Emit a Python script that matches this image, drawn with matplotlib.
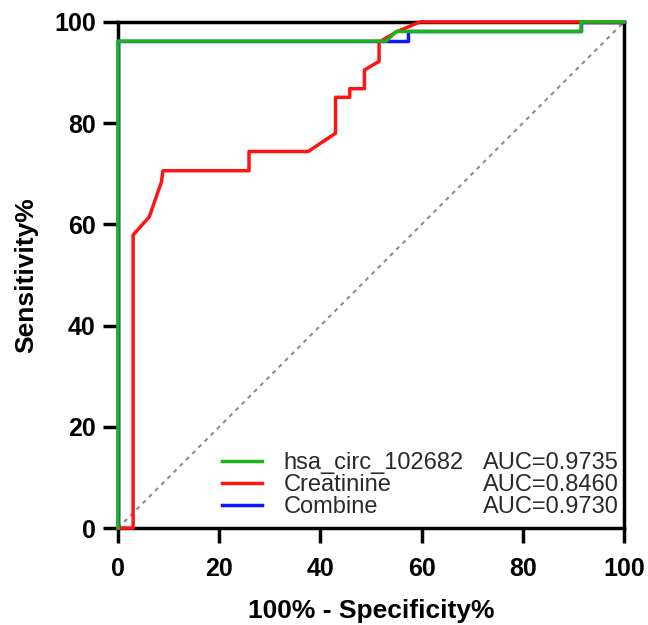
import numpy as np
import matplotlib.pyplot as plt

plt.rcParams['font.family'] = ['Liberation Sans', 'DejaVu Sans']

# ROC curves, x = 100% - Specificity%, y = Sensitivity%
circ_x = [0, 0, 53.0, 55.0, 91.5, 91.5, 100]
circ_y = [0, 96.2, 96.2, 98.1, 98.1, 100, 100]

creat_x = [0, 3.0, 3.0, 6.2, 8.6, 8.9, 25.9, 25.9, 37.6, 43.0, 43.0, 45.8, 45.8,
           48.7, 48.7, 51.6, 51.6, 55.0, 59.7, 100]
creat_y = [0, 0, 57.9, 61.5, 68.4, 70.6, 70.6, 74.4, 74.4, 78.0, 85.1, 85.1, 86.8,
           86.8, 90.5, 92.2, 96.0, 98.0, 100, 100]

comb_x = [0, 0, 57.4, 57.4, 91.5, 91.5, 100]
comb_y = [0, 96.2, 96.2, 98.1, 98.1, 100, 100]

names = ['hsa_circ_102682', 'Creatinine', 'Combine']
aucs = ['AUC=0.9735', 'AUC=0.8460', 'AUC=0.9730']
colors = ['#1cb41c', '#ff1414', '#1414ff']

ticks = [0, 20, 40, 60, 80, 100]

fig = plt.figure(figsize=(6.48, 6.25), dpi=100)
ax = fig.add_axes([0.182, 0.155, 0.781, 0.81])

ax.plot([0, 100], [0, 100], color='#8c8c8c', lw=1.5, ls=(0, (2, 2.2)), zorder=2)
l3, = ax.plot(comb_x, comb_y, color=colors[2], lw=2.5, clip_on=False, zorder=4)
l2, = ax.plot(creat_x, creat_y, color=colors[1], lw=2.5, clip_on=False, zorder=5)
l1, = ax.plot(circ_x, circ_y, color=colors[0], lw=2.5, clip_on=False, zorder=6)

ax.set_xlim(0, 100)
ax.set_ylim(0, 100)
ax.set_xticks(ticks)
ax.set_yticks(ticks)
for s in ax.spines.values():
    s.set_linewidth(2.5)
    s.set_zorder(3)
ax.tick_params(length=11, width=2.5, labelsize=18)
ax.tick_params(axis='x', pad=10)
ax.tick_params(axis='y', pad=5)
for t in ax.get_xticklabels() + ax.get_yticklabels():
    t.set_fontweight('bold')

ax.set_xlabel('100% - Specificity%', fontsize=19, fontweight='bold', labelpad=13)
ax.set_ylabel('Sensitivity%', fontsize=19, fontweight='bold', labelpad=11)

leg = ax.legend([l1, l2, l3], names, loc='lower left', bbox_to_anchor=(0.206, 0.02),
                frameon=False, fontsize=17, handlelength=1.7, handletextpad=0.9,
                labelspacing=0.0, borderaxespad=0, borderpad=0)
for h in leg.get_lines():
    h.set_linewidth(2.5)

# AUC values right-aligned, on the same rows as the legend entries
fig.canvas.draw()
inv = ax.transAxes.inverted()
for txt, auc in zip(leg.get_texts(), aucs):
    bb = txt.get_window_extent()
    yc = inv.transform((0, (bb.y0 + bb.y1) / 2))[1]
    ax.text(0.99, yc, auc, transform=ax.transAxes, ha='right', va='center',
            fontsize=17, color='#2a2a2a')
for txt in leg.get_texts():
    txt.set_color('#2a2a2a')

fig.savefig('out.png', dpi=100)
